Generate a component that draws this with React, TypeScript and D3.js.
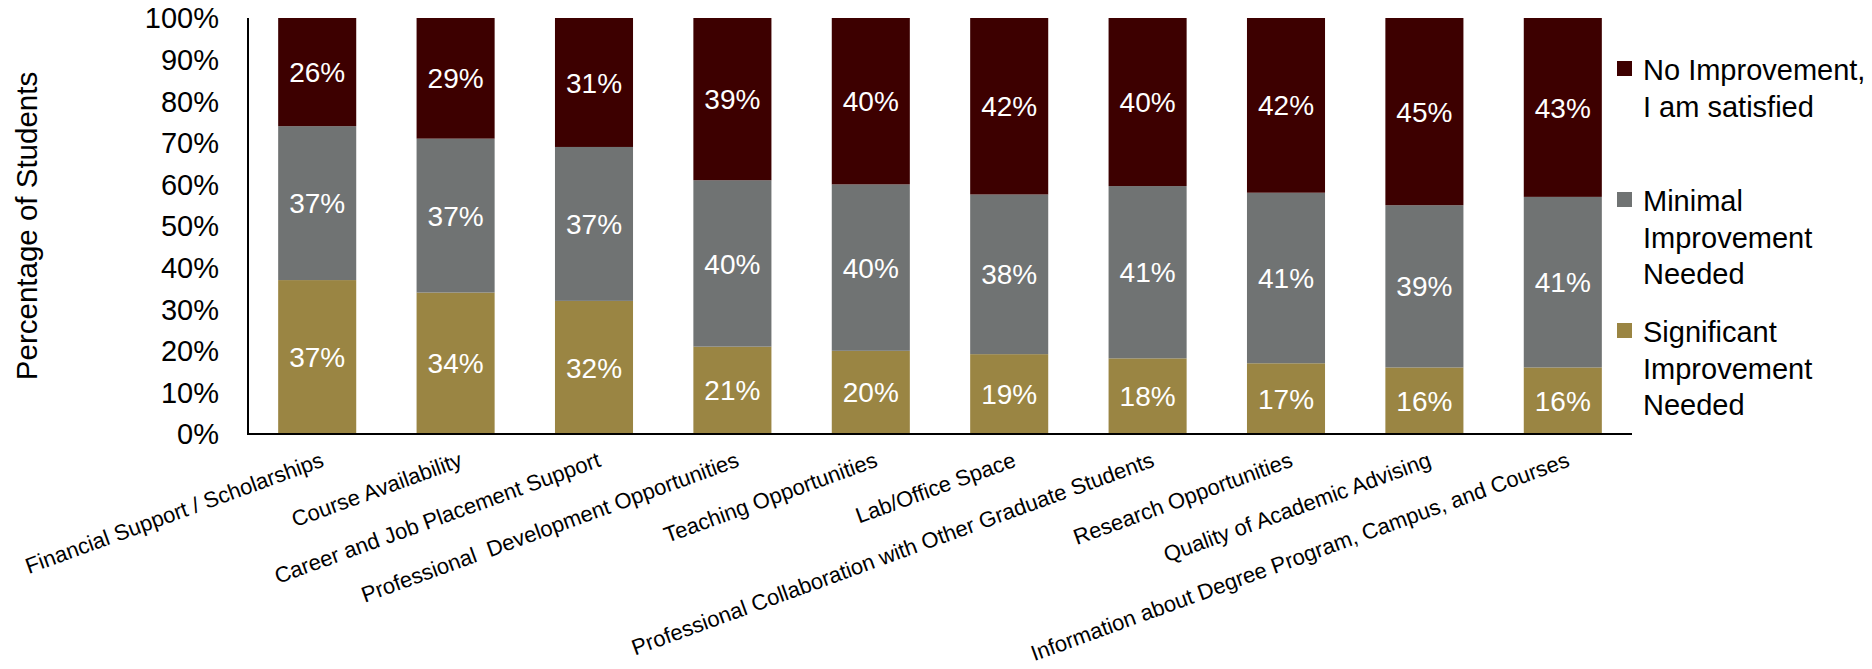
import React from "react";
import * as d3 from "d3";

const categories = [
  "Financial Support / Scholarships",
  "Course Availability",
  "Career and Job Placement Support",
  "Professional  Development Opportunities",
  "Teaching Opportunities",
  "Lab/Office Space",
  "Professional Collaboration with Other Graduate Students",
  "Research Opportunities",
  "Quality of Academic Advising",
  "Information about Degree Program, Campus, and Courses",
];
const significant = [37, 34, 32, 21, 20, 19, 18, 17, 16, 16];
const minimal = [37, 37, 37, 40, 40, 38, 41, 41, 39, 41];
const noImprovement = [26, 29, 31, 39, 40, 42, 40, 42, 45, 43];
const yTicks = [0, 0.1, 0.2, 0.3, 0.4, 0.5, 0.6, 0.7, 0.8, 0.9, 1];

const seriesKeys = ["sig", "min", "no"];
const seriesColors: Record<string, string> = { sig: "#9A8543", min: "#707373", no: "#3D0000" };
const seriesValues: Record<string, number[]> = { sig: significant, min: minimal, no: noImprovement };
const legendItems = [
  { key: "no", lines: ["No Improvement,", "I am satisfied"], y: 80 },
  { key: "min", lines: ["Minimal", "Improvement", "Needed"], y: 211 },
  { key: "sig", lines: ["Significant", "Improvement", "Needed"], y: 342 },
];

const FONT = "'Liberation Sans', Arial, sans-serif";

export default function App() {
  const W = 1872, H = 669;
  const left = 248, right = 1632, top = 18, bottom = 434;
  const x = d3.scaleBand<string>().domain(categories).range([left, right]).paddingInner(0.436).paddingOuter(0.218);
  const y = d3.scaleLinear().domain([0, 1]).range([bottom, top]);
  const table = categories.map((c, i) => ({ cat: c, sig: significant[i], min: minimal[i], no: noImprovement[i] }));
  const stack = d3.stack<any>().keys(seriesKeys).offset(d3.stackOffsetExpand);
  const layers = stack(table);
  const fmt = d3.format(".0%");
  const theta = 20;

  return (
    <svg width={W} height={H} style={{ position: "absolute", left: 0, top: 0, background: "#fff" }} fontFamily={FONT}>
      {layers.map((layer) => (
        <g key={layer.key}>
          {layer.map((d, i) => {
            const x0 = x(categories[i])!;
            const y0 = y(d[1]);
            const y1 = y(d[0]);
            return (
              <g key={i}>
                <rect x={x0} y={y0} width={x.bandwidth()} height={y1 - y0} fill={seriesColors[layer.key]} />
                <text
                  x={x0 + x.bandwidth() / 2}
                  y={(y0 + y1) / 2}
                  dy="0.36em"
                  textAnchor="middle"
                  fill="#fff"
                  fontSize={28}
                >
                  {seriesValues[layer.key][i]}%
                </text>
              </g>
            );
          })}
        </g>
      ))}
      {/* axes */}
      <line x1={left} x2={left} y1={top} y2={bottom + 1} stroke="#000" strokeWidth={2} />
      <line x1={left - 1} x2={right} y1={bottom} y2={bottom} stroke="#000" strokeWidth={2} />
      {yTicks.map((t) => (
        <text key={t} x={219} y={y(t)} dy="0.36em" textAnchor="end" fontSize={29} fill="#000">
          {fmt(t)}
        </text>
      ))}
      <text transform={`translate(37,226) rotate(-90)`} textAnchor="middle" fontSize={29.5} fill="#000">
        Percentage of Students
      </text>
      {categories.map((c) => {
        const cx = x(c)! + x.bandwidth() / 2 + 8;
        return (
          <text key={c} transform={`translate(${cx},466) rotate(-${theta})`} textAnchor="end" fontSize={22} fill="#000" style={{ whiteSpace: "pre" }}>
            {c}
          </text>
        );
      })}
      {legendItems.map((it) => (
        <g key={it.key}>
          <rect x={1617} y={it.y - 19} width={15} height={15} fill={seriesColors[it.key]} />
          {it.lines.map((ln, j) => (
            <text key={j} x={1643} y={it.y + j * 36.5} fontSize={29} fill="#000">
              {ln}
            </text>
          ))}
        </g>
      ))}
    </svg>
  );
}
